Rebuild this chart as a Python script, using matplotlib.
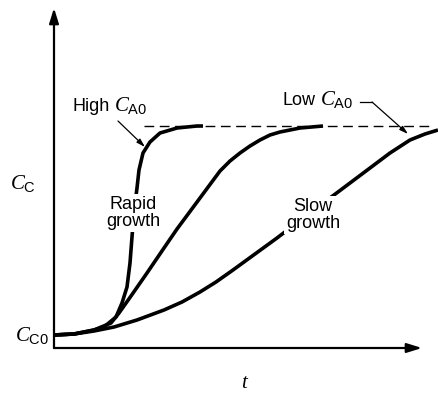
import matplotlib
matplotlib.use("Agg")
import matplotlib.pyplot as plt

plt.rcParams['font.family'] = ['Liberation Sans', 'DejaVu Sans']
plt.rcParams['mathtext.fontset'] = 'custom'
plt.rcParams['mathtext.rm'] = 'Liberation Sans'
plt.rcParams['mathtext.it'] = 'Liberation Serif:italic'

# curves (time t, concentration C_C, arbitrary units)
rapid_t = [0, 20, 40, 50, 62, 68, 73, 76, 78, 80, 83, 85, 89, 96, 106, 123, 143, 149]
rapid_c = [13, 14, 18, 21, 31, 45, 61, 85, 111, 136, 160, 178, 195, 206, 215, 220, 222, 222]

mid_t = [0, 20, 40, 57, 65, 77, 93, 110, 123, 146, 166, 176, 186, 196, 206, 216, 226, 246, 269]
mid_c = [13, 14, 18, 25, 35, 52, 75, 100, 119, 150, 177, 187, 195, 202, 208, 213, 216, 220, 222]

slow_t = [0, 20, 40, 60, 83, 110, 128, 146, 162, 179, 223, 253, 284, 316, 336, 356, 371, 384]
slow_c = [13, 14, 17, 21, 28, 38, 46, 56, 66, 78, 110, 133, 156, 180, 195, 208, 214, 218]

c_max = 222
c_max_t = [90, 376]

fig = plt.figure(figsize=(4.39, 3.93), dpi=100)
ax = fig.add_axes([0, 0, 1, 1])
ax.set_xlim(-54, 385)
ax.set_ylim(-45, 348)
ax.axis('off')

# axes drawn as arrows
arrow = dict(arrowstyle='-|>,head_length=0.9,head_width=0.28', color='black', lw=1.6,
             shrinkA=0, shrinkB=0)
ax.annotate('', xy=(368, 0), xytext=(0, 0), arrowprops=arrow)
ax.annotate('', xy=(0, 340), xytext=(0, 0), arrowprops=arrow)

# saturation level
ax.plot(c_max_t, [c_max, c_max], color='black', lw=1.0, dashes=(7, 4))

for t, c in [(rapid_t, rapid_c), (mid_t, mid_c), (slow_t, slow_c)]:
    ax.plot(t, c, color='black', lw=2.6, solid_capstyle='butt', solid_joinstyle='round')

fs = 13
fs_sym = 15
white = dict(facecolor='white', edgecolor='none', pad=1.5)
ax.text(79, 135, 'Rapid\ngrowth', ha='center', va='center', fontsize=fs,
        linespacing=1.05, bbox=white)
ax.text(259, 133, 'Slow\ngrowth', ha='center', va='center', fontsize=fs,
        linespacing=1.05, bbox=white)

small_arrow = dict(arrowstyle='-|>,head_length=0.5,head_width=0.15', color='black',
                   lw=0.9, shrinkA=0, shrinkB=0)

# High C_A0 label with pointer
ax.text(19, 237, 'High', ha='left', va='baseline', fontsize=fs)
ax.text(60, 237, r'$C_{\mathrm{A0}}$', ha='left', va='baseline', fontsize=fs_sym)
ax.annotate('', xy=(91, 201), xytext=(64, 227), arrowprops=small_arrow)

# Low C_A0 label with pointer
ax.text(229, 243, 'Low', ha='left', va='baseline', fontsize=fs)
ax.text(266, 243, r'$C_{\mathrm{A0}}$', ha='left', va='baseline', fontsize=fs_sym)
ax.plot([306, 318], [246, 246], color='black', lw=0.9)
ax.annotate('', xy=(354, 214), xytext=(318, 246), arrowprops=small_arrow)

# axis labels
ax.text(-44, 159, r'$C_{\mathrm{C}}$', ha='left', va='baseline', fontsize=fs_sym)
ax.text(-39, 7, r'$C_{\mathrm{C0}}$', ha='left', va='baseline', fontsize=fs_sym)
ax.text(191.5, -40, r'$t$', ha='center', va='baseline', fontsize=fs_sym)

fig.savefig('out.png', dpi=100)
